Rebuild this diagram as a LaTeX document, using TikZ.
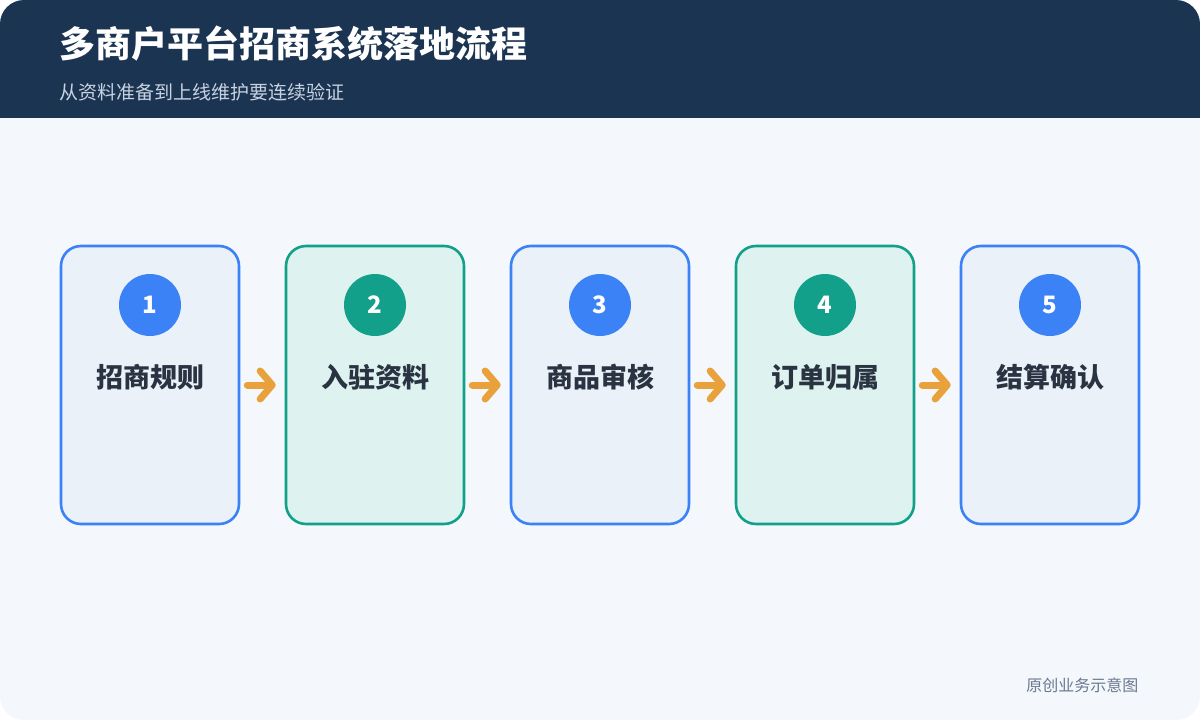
\documentclass[tikz,border=0pt]{standalone}
\usepackage{fontspec}
\setmainfont{Noto Sans CJK SC}
\usetikzlibrary{positioning,arrows.meta}

\definecolor{pagebg}{HTML}{F4F7FC}
\definecolor{headbg}{HTML}{1B3452}
\definecolor{subtext}{HTML}{C8D3E1}
\definecolor{bluemain}{HTML}{3B82F6}
\definecolor{bluefill}{HTML}{EAF1F9}
\definecolor{tealmain}{HTML}{12A08A}
\definecolor{tealfill}{HTML}{DEF3EF}
\definecolor{labeltext}{HTML}{2A3342}
\definecolor{arrowcol}{HTML}{E9A23B}
\definecolor{foottext}{HTML}{6B7A90}

\begin{document}
\begin{tikzpicture}[x=1pt, y=-1pt,
    card/.style={rectangle, draw, line width=2.6pt, rounded corners=20pt, minimum width=178pt, minimum height=278pt, inner sep=0pt},
    bluecard/.style={card, draw=bluemain, fill=bluefill},
    tealcard/.style={card, draw=tealmain, fill=tealfill},
    badge/.style={circle, minimum size=62pt, inner sep=0pt, text=white, font=\fontsize{24}{26}\selectfont\bfseries},
    label/.style={text=labeltext, font=\fontsize{27}{30}\selectfont\bfseries},
    flow/.style={draw=arrowcol, line width=7pt, line cap=round, line join=round, -{Straight Barb[length=12pt, width=28pt, round]}, shorten <=7pt, shorten >=9pt}]

    % Page
    \useasboundingbox (0,0) rectangle (1200,720);
    \fill[white] (0,0) rectangle (1200,720);
    \begin{scope}
        \clip[rounded corners=24pt] (0,0) rectangle (1200,720);
        \fill[pagebg] (0,0) rectangle (1200,720);
        \fill[headbg] (0,0) rectangle (1200,118);
    \end{scope}

    % Header
    \node[anchor=west, text=white, font=\fontsize{36}{40}\selectfont\bfseries] (title) at (56,44) {多商户平台招商系统落地流程};
    \node[anchor=west, text=subtext, font=\fontsize{19}{22}\selectfont] (subtitle) at (56,92) {从资料准备到上线维护要连续验证};

    % Steps
    \node[bluecard] (step1) at (150,385) {};
    \node[tealcard] (step2) at (375,385) {};
    \node[bluecard] (step3) at (600,385) {};
    \node[tealcard] (step4) at (825,385) {};
    \node[bluecard] (step5) at (1050,385) {};

    % Badges
    \node[badge, fill=bluemain] (num1) at (150,305) {1};
    \node[badge, fill=tealmain] (num2) at (375,305) {2};
    \node[badge, fill=bluemain] (num3) at (600,305) {3};
    \node[badge, fill=tealmain] (num4) at (825,305) {4};
    \node[badge, fill=bluemain] (num5) at (1050,305) {5};

    % Labels
    \node[label] (name1) at (150,377) {招商规则};
    \node[label] (name2) at (375,377) {入驻资料};
    \node[label] (name3) at (600,377) {商品审核};
    \node[label] (name4) at (825,377) {订单归属};
    \node[label] (name5) at (1050,377) {结算确认};

    % Connect steps
    \draw[flow] (step1) -- (step2);
    \draw[flow] (step2) -- (step3);
    \draw[flow] (step3) -- (step4);
    \draw[flow] (step4) -- (step5);

    % Footer
    \node[anchor=east, text=foottext, font=\fontsize{16}{18}\selectfont] (note) at (1142,685) {原创业务示意图};
\end{tikzpicture}
\end{document}
